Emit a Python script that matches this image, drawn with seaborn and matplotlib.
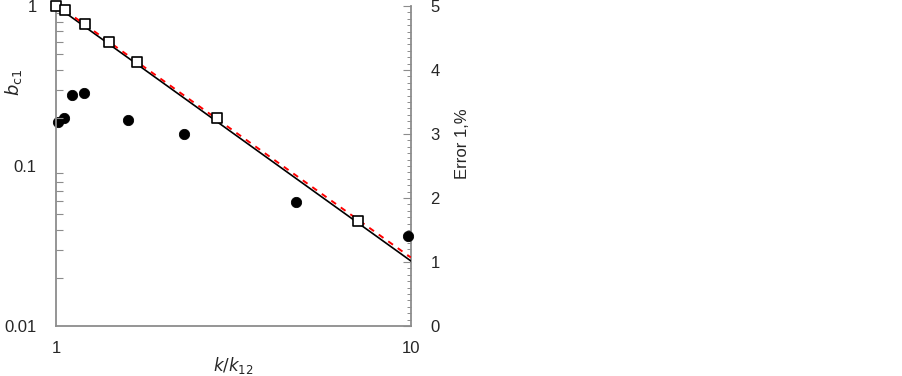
import numpy as np
import pandas as pd
import matplotlib
matplotlib.use('Agg')
import matplotlib.pyplot as plt
import seaborn as sns
from matplotlib.ticker import LogLocator, NullFormatter, FixedLocator, MultipleLocator

sns.set_theme(style='white')
plt.rcParams['font.family'] = ['Liberation Sans', 'DejaVu Sans']

# open squares: b_c1 on left log axis
sq_x = [1.0, 1.062, 1.205, 1.41, 1.69, 2.836, 7.11]
sq_y = [1.0, 0.94, 0.769, 0.596, 0.445, 0.20, 0.0455]

# fitted lines (end points)
line_x = [1.0, 10.0]
black_y = [1.0, 0.0255]
red_y = [1.03, 0.0268]

# filled circles: Error 1, % on right axis
err_x = [1.013, 1.055, 1.109, 1.197, 1.598, 2.297, 4.74, 9.81]
err_y = [3.19, 3.245, 3.61, 3.64, 3.22, 3.0, 1.94, 1.40]

grey = '#8c8c8c'
fs = 12

fig = plt.figure(figsize=(9.03, 3.76), dpi=100)
ax = fig.add_axes([0.062, 0.133, 0.393, 0.851])
ax2 = ax.twinx()

lines = pd.DataFrame({'x': line_x, 'black': black_y, 'red': red_y})
sns.lineplot(data=lines, x='x', y='black', ax=ax, color='black', lw=1.2, zorder=2)
sns.lineplot(data=lines, x='x', y='red', ax=ax, color='red', lw=1.4, ls=(0, (3, 3)), zorder=3)
sns.scatterplot(x=sq_x, y=sq_y, ax=ax, marker='s', s=45, facecolor='white',
                edgecolor='black', linewidth=1.2, zorder=5, clip_on=False)
sns.scatterplot(x=err_x, y=err_y, ax=ax2, marker='o', s=55, color='black',
                edgecolor='black', zorder=5, clip_on=False)

ax.set_xscale('log')
ax.set_yscale('log')
ax.set_xlim(1, 10)
ax.set_ylim(0.01, 1)
ax2.set_ylim(0, 5)

ax.set_xticks([1, 10])
ax.set_xticklabels(['1', '10'])
ax.xaxis.set_minor_locator(FixedLocator([2, 3, 4, 5, 6, 7, 8, 9]))
ax.xaxis.set_minor_formatter(NullFormatter())
ax.set_yticks([0.01, 0.1, 1])
ax.set_yticklabels(['0.01', '0.1', '1'])
ax.yaxis.set_minor_locator(LogLocator(base=10, subs=np.arange(2, 10)))
ax.yaxis.set_minor_formatter(NullFormatter())

ax2.yaxis.set_major_locator(MultipleLocator(1))
ax2.yaxis.set_minor_locator(MultipleLocator(0.1))

for a in (ax, ax2):
    for s in a.spines.values():
        s.set_visible(False)
    a.grid(False)
ax.spines['left'].set_visible(True)
ax.spines['bottom'].set_visible(True)
ax2.spines['right'].set_visible(True)
for s in (ax.spines['left'], ax.spines['bottom'], ax2.spines['right']):
    s.set_color(grey)
    s.set_linewidth(1.3)

ax.tick_params(axis='x', which='both', direction='in', color=grey, labelsize=fs, pad=11, top=False)
ax.tick_params(axis='x', which='major', length=0)
ax.tick_params(axis='x', which='minor', length=3, width=0.8)
ax.tick_params(axis='y', which='both', direction='in', color=grey, labelsize=fs, pad=14, right=False)
ax.tick_params(axis='y', which='major', length=0)
ax.tick_params(axis='y', which='minor', length=5, width=0.8)
ax2.tick_params(axis='y', which='both', direction='in', color=grey, labelsize=fs, pad=14, left=False)
ax2.tick_params(axis='y', which='major', length=6, width=0.8)
ax2.tick_params(axis='y', which='minor', length=3, width=0.7)

ax.set_xlabel('$\\mathit{k/k}_{12}$', fontsize=fs)
ax.xaxis.set_label_coords(0.5, -0.09)
ax.set_ylabel('$\\mathit{b}_{\\mathrm{c1}}$', fontsize=fs + 1)
ax.yaxis.set_label_coords(-0.09, 0.76)
ax2.set_ylabel('Error 1,%', fontsize=fs)
ax2.yaxis.set_label_coords(1.125, 0.57)

ax.set_zorder(ax2.get_zorder() + 1)
ax.patch.set_visible(False)

fig.savefig('out.png', dpi=100)
